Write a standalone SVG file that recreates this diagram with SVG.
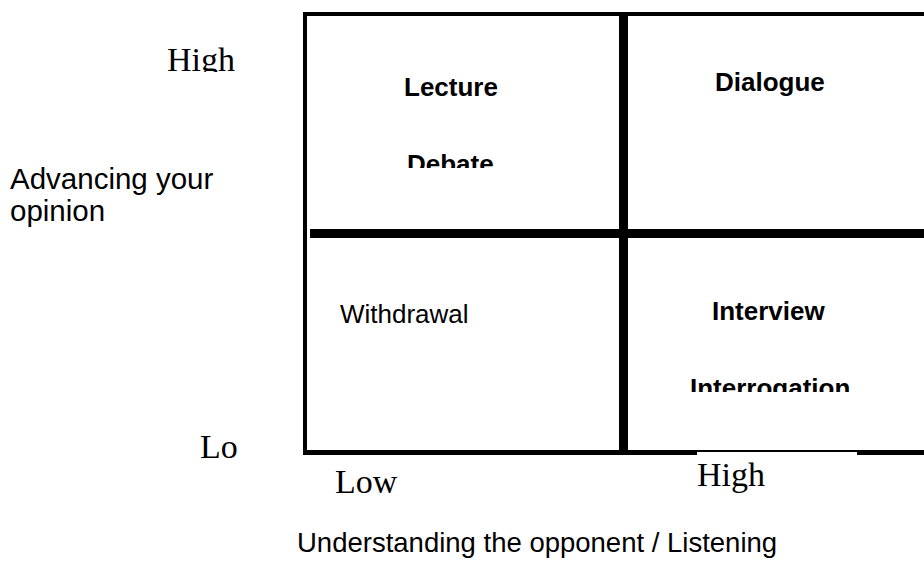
<svg xmlns="http://www.w3.org/2000/svg" width="924" height="584" viewBox="0 0 924 584">
  <style>
    .sans { font-family: "Liberation Sans", Arial, sans-serif; fill: #000; }
    .bold { font-family: "Liberation Sans", Arial, sans-serif; font-weight: bold; fill: #000; font-size: 26px; }
    .cell { font-size: 26px; }
    .axis-y { font-size: 29.5px; }
    .axis-x { font-size: 27.5px; }
    .serif { font-family: "Liberation Serif", "Times New Roman", serif; font-size: 34px; fill: #000; }
    .rule { fill: #000; }
  </style>
  <defs>
    <!-- text boxes that cut off their overflowing second line -->
    <clipPath id="clipHigh"><rect x="150" y="30" width="150" height="42"/></clipPath>
    <clipPath id="clipDebate"><rect x="380" y="130" width="200" height="38"/></clipPath>
    <clipPath id="clipInterrogation"><rect x="660" y="360" width="260" height="32"/></clipPath>
  </defs>

  <rect width="924" height="584" fill="#fff"/>

  <!-- matrix frame and dividers -->
  <g id="connectors">
    <rect class="rule" x="303" y="12" width="621" height="4"/>
    <rect class="rule" x="303" y="12" width="4" height="443"/>
    <rect class="rule" x="303" y="450" width="621" height="5"/>
    <rect class="rule" x="619" y="14" width="9" height="440"/>
    <rect class="rule" x="310" y="229" width="614" height="9"/>
  </g>

  <!-- vertical axis -->
  <g id="y-high">
    <text class="serif" x="167" y="71" clip-path="url(#clipHigh)">High</text>
  </g>
  <g id="y-label">
    <text class="sans axis-y" x="10" y="189">Advancing your</text>
    <text class="sans axis-y" x="10" y="221">opinion</text>
  </g>
  <g id="y-low">
    <text class="serif" x="200" y="458">Lo</text>
  </g>

  <!-- quadrants -->
  <g id="q-lecture-debate">
    <text class="bold" x="404" y="96">Lecture</text>
    <text class="bold" x="407" y="173" clip-path="url(#clipDebate)">Debate</text>
  </g>
  <g id="q-dialogue">
    <text class="bold" x="715" y="91">Dialogue</text>
  </g>
  <g id="q-withdrawal">
    <text class="sans cell" x="340" y="323">Withdrawal</text>
  </g>
  <g id="q-interview-interrogation">
    <text class="bold" x="712" y="320">Interview</text>
    <text class="bold" x="690" y="397" clip-path="url(#clipInterrogation)">Interrogation</text>
  </g>

  <!-- horizontal axis -->
  <g id="x-low">
    <text class="serif" x="335" y="493">Low</text>
  </g>
  <g id="x-high">
    <rect x="697" y="452" width="160" height="45" fill="#fff"/>
    <text class="serif" x="697" y="486">High</text>
  </g>
  <g id="x-label">
    <text class="sans axis-x" x="297" y="552">Understanding the opponent / Listening</text>
  </g>
</svg>
